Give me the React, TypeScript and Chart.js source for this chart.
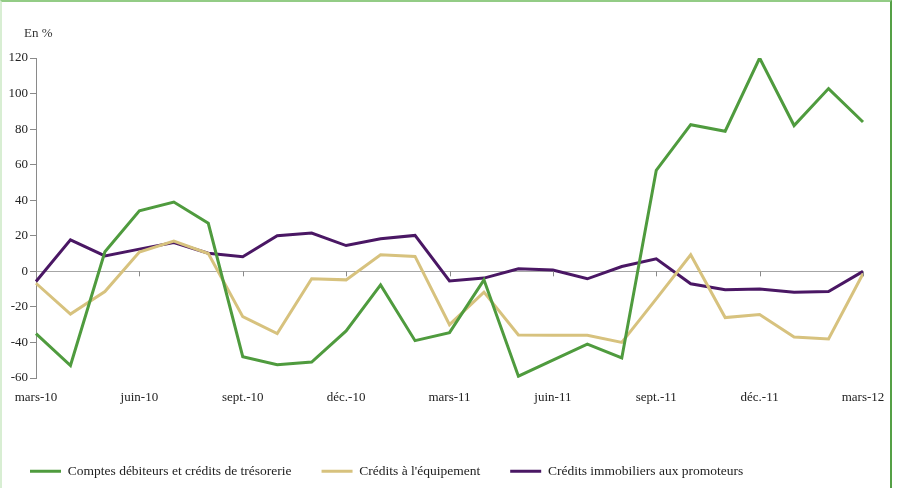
import React, { useEffect, useRef } from "react";
import { Chart, registerables } from "chart.js";

Chart.register(...registerables);

const months = [
  "mars-10", "avr.-10", "mai-10", "juin-10", "juil.-10", "août-10", "sept.-10", "oct.-10", "nov.-10", "déc.-10",
  "janv.-11", "févr.-11", "mars-11", "avr.-11", "mai-11", "juin-11", "juil.-11", "août-11", "sept.-11", "oct.-11",
  "nov.-11", "déc.-11", "janv.-12", "févr.-12", "mars-12",
];

const comptesDebiteurs = [
  -35, -53, 11, 34, 39, 27, -48, -52.5, -51, -33.5, -7.6, -39, -34.5,
  -4.8, -59, -50, -41, -48.7, 56.8, 82.5, 78.8, 120, 82, 102.8, 84,
];

const creditsEquipement = [
  -6.7, -24, -11.4, 10.8, 17, 10, -25.5, -35, -4.2, -4.8, 9.3, 8.4, -30,
  -11.7, -35.8, -36, -36, -40, -15.5, 9.3, -26, -24.3, -37, -38, -1.4,
];

const creditsImmobiliers = [
  -5.7, 17.7, 8.7, 12.5, 16.2, 10.2, 8.2, 20, 21.5, 14.5, 18.3, 20.2, -5.4,
  -3.8, 1.4, 0.7, -4.2, 2.7, 7, -7, -10.4, -9.9, -11.7, -11.4, 0,
];

const seriesNames = [
  "Comptes débiteurs et crédits de trésorerie",
  "Crédits à l'équipement",
  "Crédits immobiliers aux promoteurs",
];

const yMin = -60;
const yMax = 120;
const yStep = 20;
const unitLabel = "En %";

const FONT = "'Liberation Serif', 'Times New Roman', serif";

const extrasPlugin = {
  id: "extras",
  afterDatasetsDraw(chart: any) {
    const { ctx, scales } = chart;
    const x = scales.x;
    const y = scales.y;
    const y0 = y.getPixelForValue(0);
    ctx.save();
    ctx.strokeStyle = "#8a8a8a";
    ctx.lineWidth = 1;
    for (let i = 3; i < months.length; i += 3) {
      const px = Math.round(x.getPixelForValue(i)) + 0.5;
      ctx.beginPath();
      ctx.moveTo(px, y0);
      ctx.lineTo(px, y0 + 5);
      ctx.stroke();
    }
    ctx.restore();
  },
  afterDraw(chart: any) {
    const { ctx, chartArea } = chart;
    ctx.save();
    ctx.fillStyle = "#333";
    ctx.font = `13px ${FONT}`;
    ctx.textBaseline = "middle";
    ctx.textAlign = "left";
    ctx.fillText(unitLabel, chartArea.left - 12, chartArea.top - 24);
    ctx.restore();
  },
};

function LineChart() {
  const ref = useRef<HTMLCanvasElement>(null);
  useEffect(() => {
    if (!ref.current) return;
    const colors = ["#4f9b3e", "#d7c27e", "#4a1764"];
    const chart = new Chart(ref.current, {
      type: "line",
      data: {
        labels: months,
        datasets: [comptesDebiteurs, creditsEquipement, creditsImmobiliers].map((d, i) => ({
          label: seriesNames[i],
          data: d,
          borderColor: colors[i],
          backgroundColor: colors[i],
          borderWidth: 3,
          pointRadius: 0,
          tension: 0,
          fill: false,
        })),
      },
      options: {
        animation: false,
        responsive: false,
        maintainAspectRatio: false,
        layout: { padding: { left: 0, right: 36, top: 58, bottom: 0 } },
        plugins: {
          tooltip: { enabled: false },
          legend: {
            position: "bottom",
            align: "start",
            labels: {
              color: "#222",
              font: { family: FONT, size: 13.5 },
              boxWidth: 31,
              boxHeight: 3,
              padding: 30,
              generateLabels: (c: any) =>
                c.data.datasets.map((ds: any, i: number) => ({
                  text: ds.label,
                  fillStyle: ds.borderColor,
                  strokeStyle: ds.borderColor,
                  lineWidth: 0,
                  hidden: false,
                  datasetIndex: i,
                  fontColor: "#222",
                })),
            },
          },
        },
        scales: {
          x: {
            type: "category",
            offset: false,
            grid: { display: false, drawTicks: false },
            border: { display: false },
            ticks: {
              autoSkip: false,
              maxRotation: 0,
              minRotation: 0,
              padding: 12,
              color: "#222",
              font: { family: FONT, size: 13 },
              callback: (_v: any, i: number) => (i % 3 === 0 ? months[i] : ""),
            },
            afterFit: (s: any) => {
              s.height = 56.5;
            },
          },
          y: {
            min: yMin,
            max: yMax,
            border: { display: true, color: "#8a8a8a", width: 1 },
            grid: {
              color: (c: any) => (c.tick && c.tick.value === 0 ? "#a6a6a6" : "rgba(0,0,0,0)"),
              tickColor: "#8a8a8a",
              tickLength: 6,
              lineWidth: 1,
            },
            ticks: {
              stepSize: yStep,
              padding: 2,
              color: "#222",
              font: { family: FONT, size: 13 },
            },
            afterFit: (s: any) => {
              s.width = 36;
            },
          },
        },
      },
      plugins: [extrasPlugin],
    });
    return () => chart.destroy();
  }, []);
  return <canvas ref={ref} width={899} height={488} style={{ position: "absolute", left: 0, top: 0, width: 899, height: 488 }} />;
}

export default function App() {
  return (
    <div style={{ position: "absolute", left: 0, top: 0, width: 899, height: 488, overflow: "hidden", background: "#fff" }}>
      <LineChart />
      <div
        style={{
          position: "absolute",
          left: 0,
          top: 0,
          width: 892,
          height: 520,
          boxSizing: "border-box",
          borderTop: "2px solid #93cc86",
          borderLeft: "2px solid #d8eed3",
          borderRight: "2px solid #55a046",
          pointerEvents: "none",
        }}
      />
    </div>
  );
}
